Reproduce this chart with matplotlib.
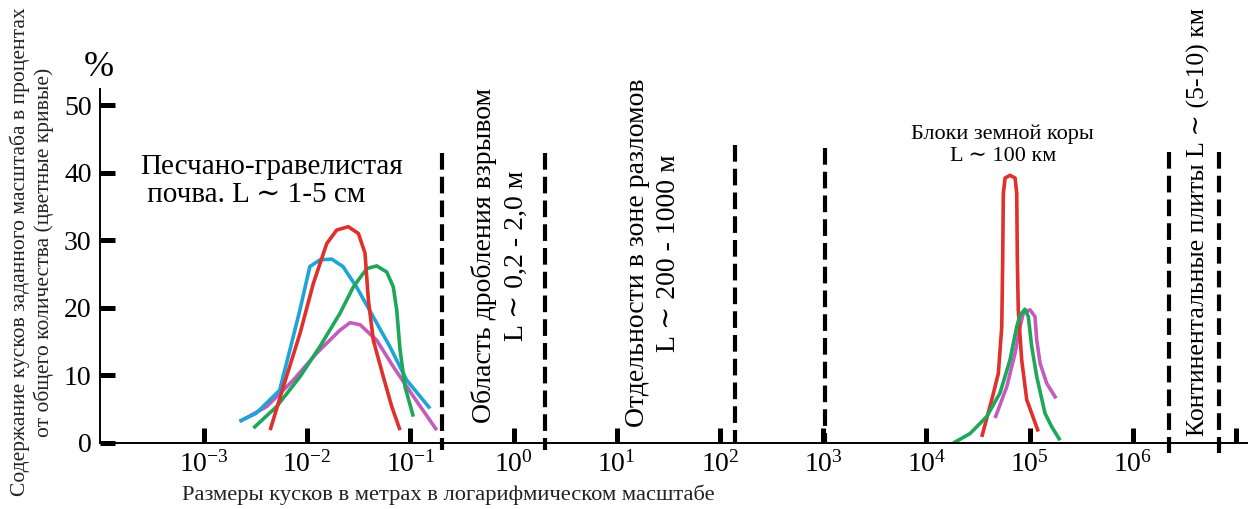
import numpy as np
import matplotlib
matplotlib.use("Agg")
import matplotlib.pyplot as plt

plt.rcParams['font.family'] = ['Liberation Serif', 'DejaVu Serif']
plt.rcParams['mathtext.fontset'] = 'custom'
plt.rcParams['mathtext.rm'] = 'Liberation Serif'
plt.rcParams['mathtext.it'] = 'Liberation Serif:italic'

# size of pieces, metres and share, %
# left group: sandy-gravel soil
blue_l_x = [0.0022, 0.0032, 0.0054, 0.0068, 0.0085, 0.0106, 0.0133, 0.0173, 0.0222, 0.030, 0.0435, 0.063, 0.092, 0.155]
blue_l_y = [3.2, 4.4, 7.8, 13.8, 19.7, 26.1, 27.1, 27.2, 26.1, 23.1, 18.7, 14.3, 9.3, 5.1]

red_l_x = [0.00437, 0.00586, 0.00851, 0.01146, 0.01545, 0.0193, 0.0250, 0.0313, 0.0363, 0.0391, 0.0437, 0.0546, 0.0659, 0.0793]
red_l_y = [1.9, 8.3, 16.2, 23.6, 29.5, 31.5, 32.0, 31.0, 28.1, 21.2, 15.2, 9.8, 5.4, 1.9]

green_l_x = [0.00301, 0.00506, 0.00851, 0.0133, 0.0208, 0.0280, 0.0378, 0.0471, 0.0589, 0.0682, 0.0736, 0.0793, 0.0887, 0.1067]
green_l_y = [2.2, 5.4, 9.8, 14.3, 19.2, 23.1, 25.8, 26.2, 25.3, 23.1, 19.7, 13.8, 8.3, 3.9]

pink_l_x = [0.00223, 0.00406, 0.00733, 0.01236, 0.0208, 0.0260, 0.0325, 0.0471, 0.0682, 0.1067, 0.1799]
pink_l_y = [3.2, 5.4, 9.3, 13.3, 16.7, 17.8, 17.5, 15.2, 11.3, 6.9, 1.9]

# right group: crust blocks
red_r_x = [34360, 42950, 49770, 53700, 54830, 55590, 57810, 64570, 72280, 74990, 76030, 77620, 83750, 93760, 121300]
red_r_y = [0.9, 6.4, 10.3, 17.2, 27.1, 36.9, 39.2, 39.6, 39.2, 36.9, 27.1, 19.7, 12.3, 6.4, 1.7]

green_r_x = [18240, 26490, 38370, 51640, 64570, 74990, 80720, 90160, 97050, 104700, 117200, 140900, 163700, 197200]
green_r_y = [0.0, 1.4, 3.9, 7.4, 12.3, 17.2, 18.9, 19.8, 18.7, 14.3, 9.8, 4.4, 2.4, 0.4]

pink_r_x = [46240, 59980, 72280, 80720, 86900, 100900, 112700, 117200, 126200, 146600, 180300]
pink_r_y = [3.7, 8.3, 13.3, 17.2, 19.2, 19.7, 18.7, 15.2, 11.8, 8.8, 6.6]

# dashed boundaries between scale ranges (metres) and their heights (%)
bound_x = [0.202, 2.01, 140, 1040, 2.24e6, 6.8e6]
bound_top = [42.9, 42.9, 44.1, 43.6, 43.0, 43.0]
bound_bottom = [-1.0, -1.0, 0.0, 0.0, -1.5, -1.5]

x_exps = [-3, -2, -1, 0, 1, 2, 3, 4, 5, 6, 7]
y_ticks = [0, 10, 20, 30, 40, 50]

RED = '#e0302b'
BLUE = '#1ea4d8'
GREEN = '#1ea75a'
PINK = '#c45bbd'

fig = plt.figure(figsize=(12.48, 5.09), dpi=100)
ax = fig.add_axes([100 / 1248, 66 / 509, 1148 / 1248, 383 / 509])
ax.set_xscale('log')
ax.set_xlim(10 ** -4.008, 10 ** 7.116)
ax.set_ylim(0, 56.66)

lw = 2.6
kw = dict(lw=lw, solid_joinstyle='round', solid_capstyle='butt')
ax.plot(pink_l_x, pink_l_y, color=PINK, **kw)
ax.plot(blue_l_x, blue_l_y, color=BLUE, **kw)
ax.plot(green_l_x, green_l_y, color=GREEN, **kw)
ax.plot(red_l_x, red_l_y, color=RED, **kw)

ax.plot(pink_r_x, pink_r_y, color=PINK, **kw)
ax.plot(red_r_x, red_r_y, color=RED, **kw)
ax.plot(green_r_x, green_r_y, color=GREEN, **kw)

for bx, bt, bb in zip(bound_x, bound_top, bound_bottom):
    ax.plot([bx, bx], [bt, bb], color='black', lw=3, dashes=(4, 1.7),
            solid_capstyle='butt', dash_capstyle='butt', clip_on=False)

# axes look
for s in ['top', 'right']:
    ax.spines[s].set_visible(False)
ax.spines['left'].set_bounds(0, 52.3)
ax.spines['left'].set_linewidth(1.4)
ax.spines['bottom'].set_linewidth(1.4)

ax.set_yticks(y_ticks)
ax.set_yticklabels([str(v) for v in y_ticks])
ax.tick_params(axis='y', direction='in', length=11, width=3.6, pad=6, labelsize=20)

ax.set_xticks([10.0 ** e for e in x_exps])
ax.set_xticklabels(['$10^{%d}$' % e if e < 7 else '' for e in x_exps])
ax.minorticks_off()
ax.tick_params(axis='x', direction='in', length=11, width=3.6, pad=6, labelsize=20)

# annotations
ax.text(2.4e-4, 38.8, 'Песчано-гравелистая\n почва. L ∼ 1-5 см', ha='left', va='center',
        fontsize=21, linespacing=1.1)
ax.text(5.5e4, 44.0, 'Блоки земной коры\nL ∼ 100 км', ha='center', va='center',
        fontsize=16, linespacing=1.2)
ax.text(0.74, 27.7, 'Область дробления взрывом\nL ∼ 0,2 - 2,0 м', ha='center', va='center',
        rotation=90, fontsize=20, linespacing=1.35)
ax.text(22.4, 28.1, 'Отдельности в зоне разломов\nL ∼ 200 - 1000 м', ha='center', va='center',
        rotation=90, fontsize=20, linespacing=1.35)
ax.text(4.3e6, 32.7, 'Континентальные плиты L ∼ (5-10) км', ha='center', va='center',
        rotation=90, fontsize=18.5)
ax.text(10 ** -4.02, 55.5, '%', ha='center', va='center', fontsize=26)

fig.text(32 / 1248, 1 - 252 / 509,
         'Содержание кусков заданного масштаба в процентах\nот общего количества (цветные кривые)',
         rotation=90, ha='center', va='center', fontsize=15.5, linespacing=1.2, color='#222222')
fig.text(448 / 1248, 1 - 495 / 509, 'Размеры кусков в метрах в логарифмическом масштабе',
         ha='center', va='center', fontsize=16.2, color='#222222')

fig.savefig('out.png', dpi=100)
